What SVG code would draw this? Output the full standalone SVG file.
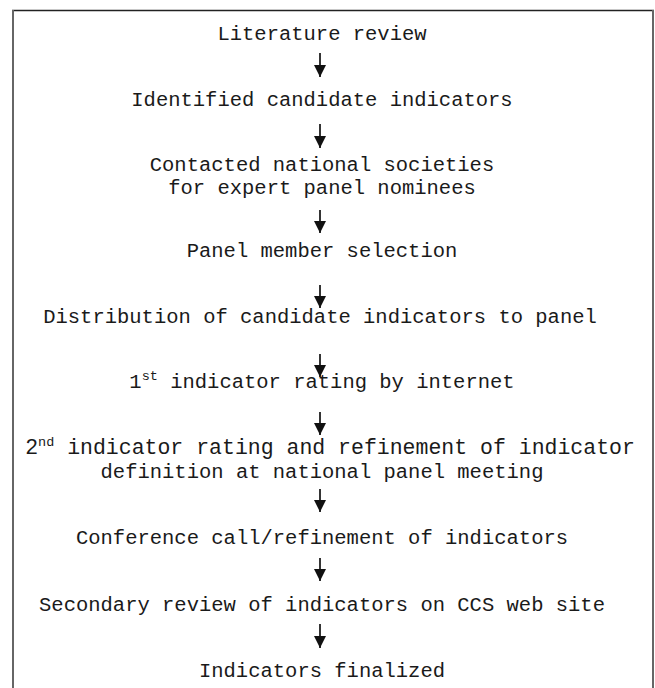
<svg xmlns="http://www.w3.org/2000/svg" width="655" height="688" viewBox="0 0 655 688">
<style>
.t{font-family:"Liberation Mono","Courier New",monospace;font-size:20.5px;fill:#1a1a1a;text-anchor:middle}
.w{font-size:21.5px}
.sup{font-size:13.5px}
.c{stroke:#111;stroke-width:1.7;fill:none}
</style>
<defs>
<marker id="ah" viewBox="0 0 12 12" refX="12" refY="6" markerWidth="12" markerHeight="13" markerUnits="userSpaceOnUse" orient="auto">
<path d="M0,0 L12,6 L0,12 Z" fill="#111"/>
</marker>
</defs>
<rect width="655" height="688" fill="#fff"/>
<g id="frame">
<line x1="12" y1="10.5" x2="654" y2="10.5" stroke="#222" stroke-width="1.5"/>
<line x1="13" y1="10" x2="13" y2="688" stroke="#666" stroke-width="2"/>
<line x1="653" y1="10" x2="653" y2="688" stroke="#666" stroke-width="2"/>
</g>
<g id="connectors">
<line class="c" x1="320" y1="53" x2="320" y2="77" marker-end="url(#ah)"/>
<line class="c" x1="320" y1="124" x2="320" y2="148" marker-end="url(#ah)"/>
<line class="c" x1="320" y1="210" x2="320" y2="233" marker-end="url(#ah)"/>
<line class="c" x1="320" y1="285" x2="320" y2="308" marker-end="url(#ah)"/>
<line class="c" x1="320" y1="354" x2="320" y2="377" marker-end="url(#ah)"/>
<line class="c" x1="320" y1="412" x2="320" y2="435" marker-end="url(#ah)"/>
<line class="c" x1="320" y1="489" x2="320" y2="512" marker-end="url(#ah)"/>
<line class="c" x1="320" y1="558" x2="320" y2="581" marker-end="url(#ah)"/>
<line class="c" x1="320" y1="624" x2="320" y2="648" marker-end="url(#ah)"/>
</g>
<g id="n1"><text class="t" x="322" y="40">Literature review</text></g>
<g id="n2"><text class="t" x="322" y="106">Identified candidate indicators</text></g>
<g id="n3"><text class="t" x="322" y="171">Contacted national societies</text><text class="t" x="322" y="194">for expert panel nominees</text></g>
<g id="n4"><text class="t" x="322" y="257">Panel member selection</text></g>
<g id="n5"><text class="t" x="320" y="323">Distribution of candidate indicators to panel</text></g>
<g id="n6"><text class="t" x="322" y="388">1<tspan class="sup" dy="-8">st</tspan><tspan dy="8"> indicator rating by internet</tspan></text></g>
<g id="n7"><text class="t w" x="330" y="454">2<tspan class="sup" dy="-8">nd</tspan><tspan dy="8"> indicator rating and refinement of indicator</tspan></text><text class="t" x="322" y="478">definition at national panel meeting</text></g>
<g id="n8"><text class="t" x="322" y="544">Conference call/refinement of indicators</text></g>
<g id="n9"><text class="t" x="322" y="611">Secondary review of indicators on CCS web site</text></g>
<g id="n10"><text class="t" x="322" y="677">Indicators finalized</text></g>
</svg>
